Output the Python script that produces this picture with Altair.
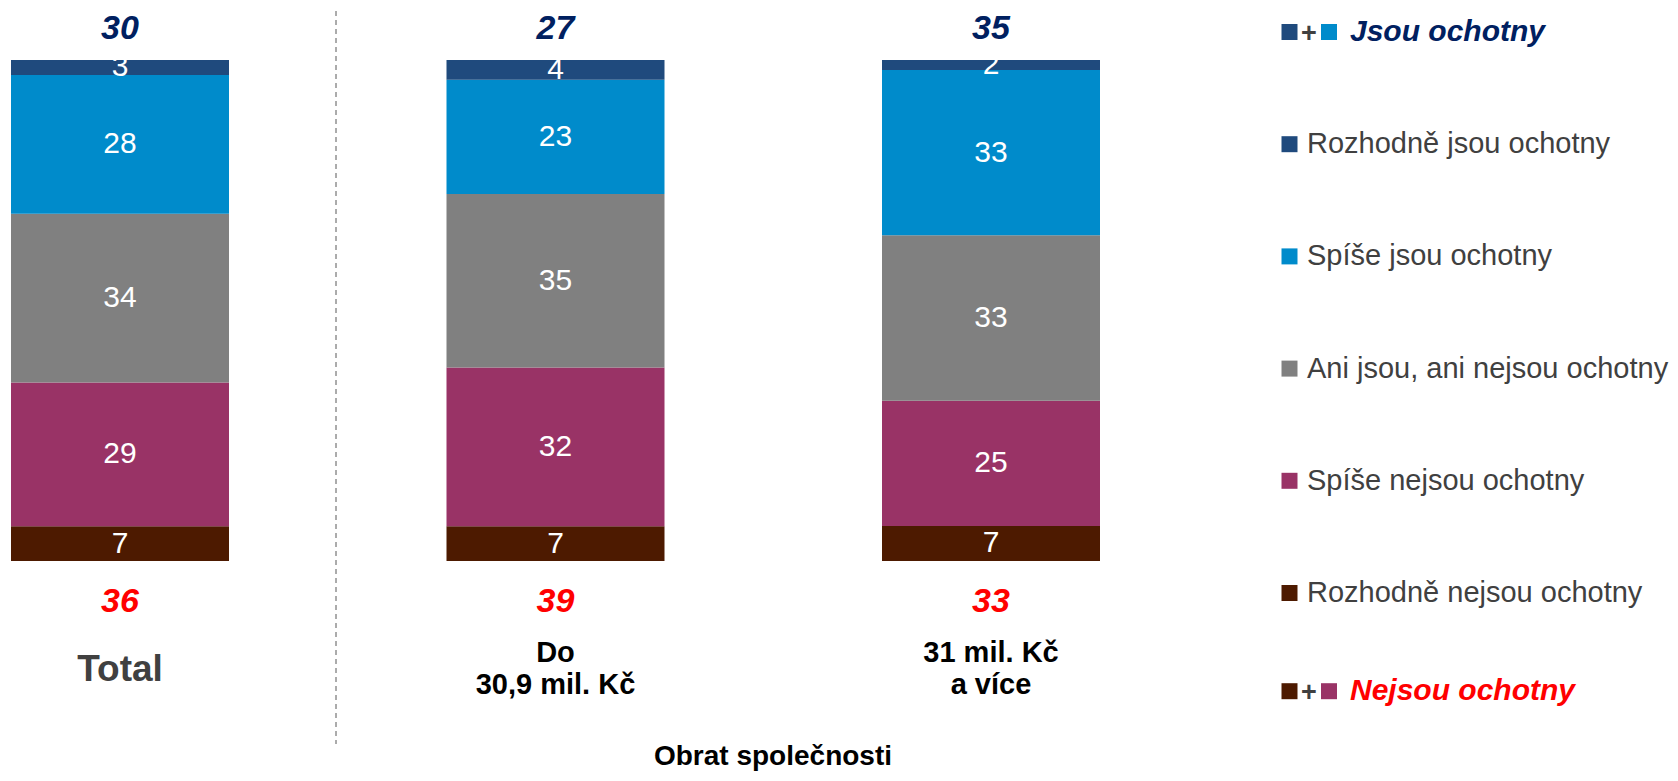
import altair as alt
import pandas as pd

# ---------------- data ----------------
categories = ["Total", "Do 30,9 mil. Kč", "31 mil. Kč a více"]
category_labels = ["Total", "Do\n30,9 mil. Kč", "31 mil. Kč\na více"]

# segments, bottom to top
segments = [
    "Rozhodně nejsou ochotny",
    "Spíše nejsou ochotny",
    "Ani jsou, ani nejsou ochotny",
    "Spíše jsou ochotny",
    "Rozhodně jsou ochotny",
]
rozhodne_nejsou = [7, 7, 7]
spise_nejsou = [29, 32, 25]
ani = [34, 35, 33]
spise_jsou = [28, 23, 33]
rozhodne_jsou = [3, 4, 2]

jsou_totals = [30, 27, 35]
nejsou_totals = [36, 39, 33]

legend_top = "Jsou ochotny"
legend_bottom = "Nejsou ochotny"
axis_title = "Obrat společnosti"

seg_colors = ["#4D1A00", "#993366", "#808080", "#008BCB", "#1F4A7D"]

# ---------------- tables ----------------
series = [rozhodne_nejsou, spise_nejsou, ani, spise_jsou, rozhodne_jsou]
rows = []
for si, (seg, vals) in enumerate(zip(segments, series)):
    for cat, v in zip(categories, vals):
        rows.append({"cat": cat, "seg": seg, "order": si, "value": v})
df = pd.DataFrame(rows)

tot_df = pd.DataFrame({"cat": categories, "label": category_labels,
                       "jsou": jsou_totals, "nejsou": nejsou_totals})

FONT = "Liberation Sans"

xscale = alt.Scale(type="point", domain=categories, range=[112, 983], padding=0)
yscale = alt.Scale(domain=[0, 1], range=[553, 52], nice=False, zero=False)
cscale = alt.Scale(domain=segments, range=seg_colors)

X = alt.X("cat:N", scale=xscale, axis=None)

base = alt.Chart(df).transform_stack(
    stack="value", groupby=["cat"], as_=["y0", "y1"], offset="normalize",
    sort=[alt.SortField("order", "ascending")],
).transform_calculate(mid="(datum.y0 + datum.y1) / 2")

bars = base.mark_bar(size=218).encode(
    x=X,
    y=alt.Y("y0:Q", scale=yscale, axis=None),
    y2="y1:Q",
    color=alt.Color("seg:N", scale=cscale, legend=None),
)

seg_text = base.mark_text(color="white", fontSize=30, baseline="middle", align="center").encode(
    x=X,
    y=alt.Y("mid:Q", scale=yscale, axis=None),
    text="value:Q",
)

tbase = alt.Chart(tot_df)
top_tot = tbase.mark_text(fontSize=34, fontWeight="bold", fontStyle="italic",
                          color="#002060", dy=-31, baseline="middle").encode(
    x=X, y=alt.YDatum(1, type="quantitative", scale=yscale, axis=None), text="jsou:Q")
bot_tot = tbase.mark_text(fontSize=34, fontWeight="bold", fontStyle="italic",
                          color="#FF0000", dy=41, baseline="middle").encode(
    x=X, y=alt.YDatum(0, type="quantitative", scale=yscale, axis=None), text="nejsou:Q")

total_lab = tbase.transform_filter(alt.datum.cat == "Total").mark_text(
    fontSize=37, fontWeight="bold", color="#404040", dy=109, baseline="middle").encode(
    x=X, y=alt.YDatum(0, type="quantitative", scale=yscale, axis=None), text="label:N")
other_lab = tbase.transform_filter(alt.datum.cat != "Total").mark_text(
    fontSize=29, fontWeight="bold", color="#000000", dy=92, baseline="middle",
    lineBreak="\n", lineHeight=32).encode(
    x=X, y=alt.YDatum(0, type="quantitative", scale=yscale, axis=None), text="label:N")

obrat = alt.Chart(pd.DataFrame({"t": [axis_title]})).mark_text(
    fontSize=28, fontWeight="bold", color="#000000", baseline="alphabetic", align="center").encode(
    x=alt.value(765), y=alt.value(757), text="t:N")

divider = alt.Chart(pd.DataFrame({"a": [0]})).mark_rule(
    strokeDash=[5, 4], color="#595959", strokeWidth=1).encode(
    x=alt.value(328), y=alt.value(3), y2=alt.value(736))

bars_group = alt.layer(bars, seg_text, top_tot, bot_tot, total_lab, other_lab, obrat, divider)

# ---------------- legend ----------------
leg_rows = [legend_top] + segments[::-1] + [legend_bottom]
lyscale = alt.Scale(type="point", domain=leg_rows, range=[24, 697.2], padding=0)
LY = alt.Y("row:N", scale=lyscale, axis=None)

single_df = pd.DataFrame({"row": segments[::-1], "seg": segments[::-1]})
sq = alt.Chart(single_df).mark_point(shape="square", filled=True, size=256, opacity=1).encode(
    x=alt.value(1281.5), y=LY, color=alt.Color("seg:N", scale=cscale, legend=None))
sq_txt = alt.Chart(single_df).mark_text(align="left", baseline="middle", fontSize=29,
                                        color="#404040").encode(
    x=alt.value(1299), y=LY, text="seg:N")


def composite(label, first, second, txt_color, yoff):
    d = pd.DataFrame({"row": [label], "first": [first], "second": [second]})
    c = alt.Chart(d)
    s1 = c.mark_point(shape="square", filled=True, size=256, opacity=1, yOffset=yoff).encode(
        x=alt.value(1281.5), y=LY, color=alt.Color("first:N", scale=cscale, legend=None))
    plus = c.mark_text(text="+", fontSize=27, fontWeight="bold", color="#404040",
                       baseline="middle", align="center", dy=yoff + 2).encode(
        x=alt.value(1301), y=LY)
    s2 = c.mark_point(shape="square", filled=True, size=256, opacity=1, yOffset=yoff).encode(
        x=alt.value(1321), y=LY, color=alt.Color("second:N", scale=cscale, legend=None))
    t = c.mark_text(align="left", baseline="middle", fontSize=30, fontWeight="bold",
                    fontStyle="italic", color=txt_color, dy=yoff).encode(
        x=alt.value(1342), y=LY, text="row:N")
    return [s1, plus, s2, t]


legend_group = alt.layer(
    sq, sq_txt,
    *composite(legend_top, segments[4], segments[3], "#002060", 0),
    *composite(legend_bottom, segments[0], segments[1], "#FF0000", -14),
)

chart = alt.layer(bars_group, legend_group).resolve_scale(y="independent").properties(
    width=1662, height=765, autosize=alt.AutoSizeParams(type="none"), padding=0
).configure(font=FONT).configure_view(stroke=None)

chart.save("out.html", embed_options={"renderer": "svg", "actions": False})
